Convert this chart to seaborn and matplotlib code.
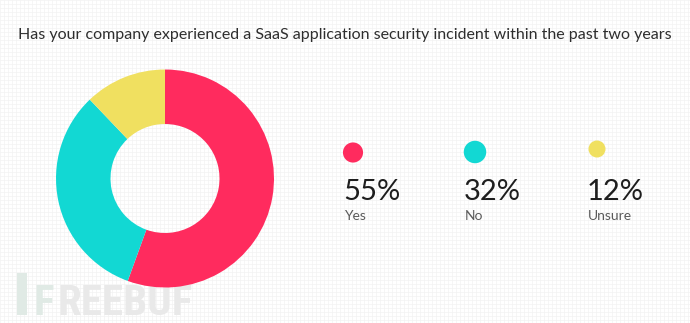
import matplotlib
matplotlib.use("Agg")
import matplotlib.pyplot as plt
from matplotlib.ticker import MultipleLocator
from matplotlib.patches import Rectangle
import seaborn as sns

# ---- data ----
title = "Has your company experienced a SaaS application security incident within the past two years"
categories = ["Yes", "No", "Unsure"]
values = [55, 32, 12]
pct_labels = ["55%", "32%", "12%"]

# ---- style ----
colors = ["#FF2B5E", "#12D8D3", "#F0E060"]
dot_sizes = [210, 262, 150]

sns.set_theme(style="white")
plt.rcParams["font.family"] = ["Lato", "DejaVu Sans"]

W, H = 690, 323
fig = plt.figure(figsize=(W / 100, H / 100), dpi=100)
fig.patch.set_facecolor("white")

# background faint grid
bg = fig.add_axes([0, 0, 1, 1], zorder=0)
bg.set_xlim(0, W)
bg.set_ylim(H, 0)
bg.xaxis.set_major_locator(MultipleLocator(4))
bg.yaxis.set_major_locator(MultipleLocator(4))
bg.grid(True, color="#f3f3f3", linewidth=0.5)
bg.tick_params(length=0, labelbottom=False, labelleft=False)
for s in bg.spines.values():
    s.set_visible(False)

# watermark (behind the donut)
wm_font = ["Roboto Condensed", "Roboto", "DejaVu Sans"]
bg.add_patch(Rectangle((17, 273), 10, 42, color="#e0eae5", linewidth=0))
bg.text(33, 315, "F", fontsize=31, fontweight="bold", color="#e0eae5",
        family=wm_font, ha="left", va="baseline")
bg.text(58, 315, "REEBUF", fontsize=31, fontweight="bold", color="#e9e9e9",
        family=wm_font, ha="left", va="baseline")

# donut
cx, cy, r = 165, 178.5, 109
ax = fig.add_axes([(cx - r) / W, (H - cy - r) / H, 2 * r / W, 2 * r / H], zorder=1)
ax.pie(values, colors=colors, startangle=90, counterclock=False, radius=1,
       wedgeprops=dict(width=0.5, edgecolor="none"))
ax.set_xlim(-1, 1)
ax.set_ylim(-1, 1)
ax.set_aspect("equal")
ax.axis("off")

# overlay for legend / text
ov = fig.add_axes([0, 0, 1, 1], zorder=2)
ov.set_xlim(0, W)
ov.set_ylim(H, 0)
ov.axis("off")
ov.patch.set_alpha(0)

dot_x = [353, 475, 597]
dot_y = [152.5, 152, 149]
text_x = [343, 464, 587]
sns.scatterplot(x=dot_x, y=dot_y, hue=categories, palette=colors, size=categories,
                sizes=dict(zip(categories, dot_sizes)), legend=False, ax=ov,
                linewidth=0)
for i, cat in enumerate(categories):
    ov.text(text_x[i], 200.5, pct_labels[i], fontsize=21, fontweight="normal",
            color="#1e1e1e", ha="left", va="baseline")
    ov.text(text_x[i] + 1, 220, cat, fontsize=10, color="#5a5a5a",
            ha="left", va="baseline")

ov.text(345, 35, title, fontsize=11.5, color="#2e2e2e", ha="center", va="center")

fig.savefig("out.png", dpi=100, facecolor="white")
